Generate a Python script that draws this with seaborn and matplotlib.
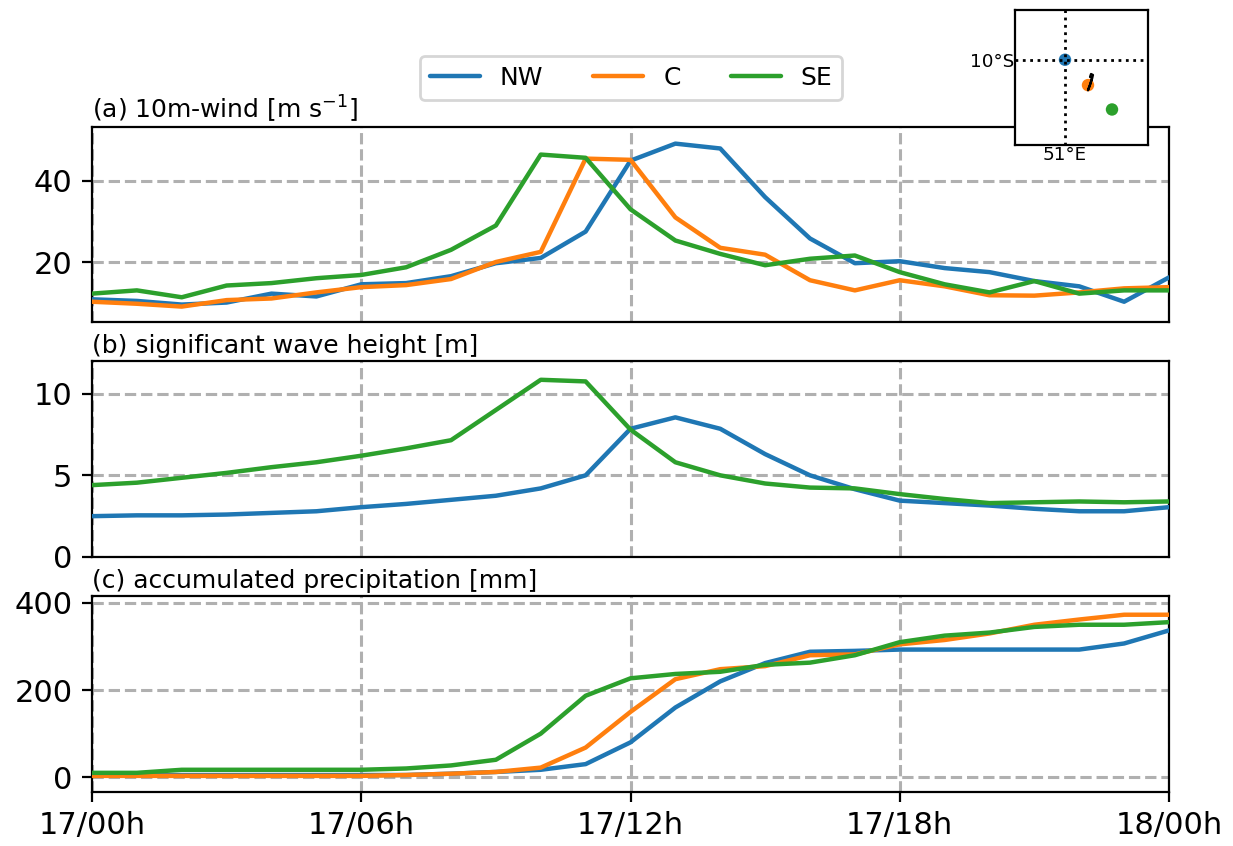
import pandas as pd
import matplotlib
matplotlib.use('Agg')
import matplotlib.pyplot as plt
import seaborn as sns

"""Values read off the reference picture"""
hours = list(range(25))
tick_hours = [0, 6, 12, 18, 24]
tick_labels = ['17/00h', '17/06h', '17/12h', '17/18h', '18/00h']

wind_nw = [10.8, 10.4, 9.5, 10, 12.2, 11.5, 14.5, 14.8, 16.5, 19.7, 21, 27.5, 45, 49.2, 48, 36, 25.8, 19.7, 20.2, 18.5, 17.5, 15.3, 14, 10.2, 16.2]
wind_c = [10.2, 9.7, 9, 10.6, 11, 12.5, 13.8, 14.3, 15.8, 20, 22.5, 45.5, 45.2, 31, 23.5, 21.8, 15.5, 13, 15.5, 14, 11.8, 11.7, 12.5, 13.5, 13.8]
wind_se = [12.2, 13, 11.3, 14.2, 14.8, 16, 16.8, 18.7, 23, 29, 46.5, 45.7, 33, 25.3, 22, 19.2, 20.8, 21.6, 17.5, 14.5, 12.5, 15.3, 12.2, 13, 13]

wave_nw = [2.5, 2.55, 2.55, 2.6, 2.7, 2.8, 3.05, 3.25, 3.5, 3.75, 4.2, 5, 7.85, 8.55, 7.85, 6.3, 5.0, 4.15, 3.45, 3.3, 3.15, 2.95, 2.8, 2.8, 3.05]
wave_se = [4.4, 4.55, 4.85, 5.15, 5.5, 5.8, 6.2, 6.65, 7.15, 9, 10.85, 10.75, 7.8, 5.8, 5, 4.5, 4.25, 4.2, 3.85, 3.55, 3.3, 3.35, 3.4, 3.35, 3.4]

prec_nw = [5, 5, 5, 5, 5, 5, 5, 5, 8, 12, 17, 30, 80, 160, 220, 262, 288, 290, 293, 293, 293, 293, 293, 307, 337]
prec_c = [3, 3, 3, 3, 3, 3, 3, 5, 8, 12, 22, 68, 150, 225, 248, 255, 280, 282, 305, 315, 330, 350, 362, 373, 373]
prec_se = [10, 10, 17, 17, 17, 17, 17, 20, 27, 40, 100, 187, 227, 237, 242, 258, 263, 280, 310, 325, 332, 345, 350, 350, 356]

site_names = ['NW', 'C', 'SE']
site_lon = [51.0, 51.46, 51.94]
site_lat = [-10.0, -10.5, -10.98]
track_lon = [51.46, 51.54, 51.56, 51.52, 51.50, 51.54, 51.50, 51.46]
track_lat = [-10.60, -10.38, -10.30, -10.28, -10.34, -10.36, -10.50, -10.60]

palette = {'NW': '#1f77b4', 'C': '#ff7f0e', 'SE': '#2ca02c'}


def long_table(series):
    frames = []
    for name, values in series.items():
        frames.append(pd.DataFrame({'hour': hours, 'value': values, 'site': name}))
    return pd.concat(frames, ignore_index=True)


def draw_panel(ax, series, title, ylim, yticks):
    sns.lineplot(data=long_table(series), x='hour', y='value', hue='site', palette=palette,
                 linewidth=1.6, errorbar=None, ax=ax, legend=False, zorder=3)
    ax.set_xlim(0, 24)
    ax.set_ylim(*ylim)
    ax.set_yticks(yticks)
    ax.set_xticks(tick_hours)
    ax.set_xlabel('')
    ax.set_ylabel('')
    ax.grid(True, color='#b0b0b0', linestyle='--', linewidth=1.1)
    ax.set_axisbelow(True)
    ax.tick_params(labelsize=11)
    ax.set_title(title, loc='left', fontsize=9, pad=3)


sns.set_style('ticks')
plt.rcParams['font.family'] = ['DejaVu Sans']
plt.rcParams.update({'text.color': 'black', 'axes.edgecolor': 'black', 'axes.labelcolor': 'black',
                     'xtick.color': 'black', 'ytick.color': 'black', 'axes.linewidth': 0.8,
                     'xtick.major.width': 0.8, 'ytick.major.width': 0.8,
                     'xtick.major.size': 3.5, 'ytick.major.size': 3.5})

fig = plt.figure(figsize=(6.165, 4.23), dpi=200)
left, width = 92 / 1233, 1077 / 1233
ax_a = fig.add_axes([left, 1 - 322 / 846, width, 195 / 846])
ax_b = fig.add_axes([left, 1 - 557 / 846, width, 196 / 846])
ax_c = fig.add_axes([left, 1 - 792 / 846, width, 196 / 846])

draw_panel(ax_a, {'NW': wind_nw, 'C': wind_c, 'SE': wind_se},
           '(a) 10m-wind [m s$^{-1}$]', (5.2, 53.3), [20, 40])
draw_panel(ax_b, {'NW': wave_nw, 'SE': wave_se},
           '(b) significant wave height [m]', (0, 12), [0, 5, 10])
draw_panel(ax_c, {'NW': prec_nw, 'C': prec_c, 'SE': prec_se},
           '(c) accumulated precipitation [mm]', (-34, 416), [0, 200, 400])

ax_a.tick_params(axis='x', labelbottom=False, length=0)
ax_b.tick_params(axis='x', labelbottom=False, length=0)
ax_c.set_xticklabels(tick_labels)

handles = [plt.Line2D([], [], color=palette[n], linewidth=1.6) for n in site_names]
fig.legend(handles, site_names, ncol=3, fontsize=9, loc='center',
           bbox_to_anchor=(631 / 1233, 1 - 78 / 846), columnspacing=2.0, handlelength=2.0)

# location inset
ax_map = fig.add_axes([1015 / 1233, 1 - 145 / 846, 133 / 1233, 135 / 846])
sns.scatterplot(x=site_lon, y=site_lat, hue=site_names, palette=palette, s=20, linewidth=0,
                ax=ax_map, legend=False, zorder=2)
sns.lineplot(x=track_lon, y=track_lat, sort=False, estimator=None, color='black', linewidth=0.8,
             ax=ax_map, zorder=4)
ax_map.set_xlim(50.0, 52.66)
ax_map.set_ylim(-11.68, -9.02)
ax_map.set_xticks([51])
ax_map.set_xticklabels(['51°E'])
ax_map.set_yticks([-10])
ax_map.set_yticklabels(['10°S'])
ax_map.tick_params(length=0, labelsize=6.6, pad=0.3)
ax_map.grid(True, color='black', linestyle=':', linewidth=1.0)
ax_map.set_axisbelow(False)

fig.savefig('out.png', dpi=200)
plt.close()
